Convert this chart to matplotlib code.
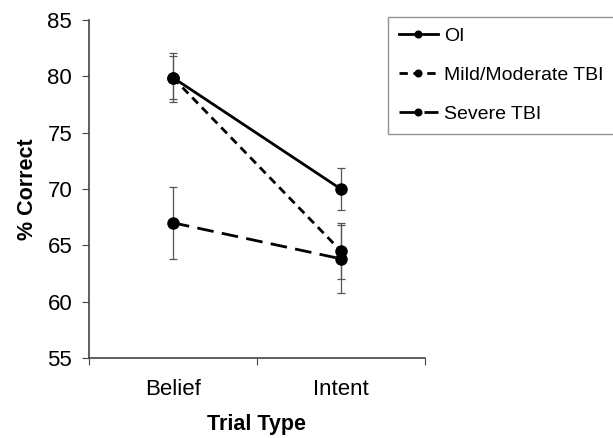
import matplotlib.pyplot as plt

plt.rcParams['font.family'] = ['Liberation Sans', 'DejaVu Sans']

trial_types = ["Belief", "Intent"]
groups = ["OI", "Mild/Moderate TBI", "Severe TBI"]

oi_mean = [79.9, 70.0]
oi_err = [2.2, 1.9]
mild_mean = [79.9, 64.5]
mild_err = [1.9, 2.5]
severe_mean = [67.0, 63.8]
severe_err = [3.2, 3.0]

means = [oi_mean, mild_mean, severe_mean]
errs = [oi_err, mild_err, severe_err]
styles = ["-", (0, (3, 2)), (0, (6, 3))]

fig = plt.figure(figsize=(6.13, 4.38), dpi=100)
ax = fig.add_axes([0.145, 0.183, 0.548, 0.771])

x = [0.5, 1.5]
handles = []
for name, m, e, ls in zip(groups, means, errs, styles):
    ax.errorbar(x, m, yerr=e, fmt="none", ecolor="#555555",
                elinewidth=0.9, capsize=3, capthick=0.9, zorder=2)
    h, = ax.plot(x, m, linestyle=ls, color="black", linewidth=2,
                 marker="o", markersize=8, zorder=3, label=name)
    handles.append(h)

ax.set_xlim(0, 2)
ax.set_ylim(55, 85)
ax.set_yticks(range(55, 90, 5))
ax.set_xticks([0, 1, 2])
ax.set_xticklabels([])
ax.set_xticks(x, minor=True)
ax.set_xticklabels(trial_types, minor=True, fontsize=16)
ax.tick_params(axis="x", which="minor", length=0, pad=15)
ax.tick_params(axis="x", which="major", length=5, color="#444444")
ax.tick_params(axis="y", length=5, labelsize=16, color="#444444", pad=7)

for side in ["top", "right"]:
    ax.spines[side].set_visible(False)
for side in ["left", "bottom"]:
    ax.spines[side].set_color("#444444")
    ax.spines[side].set_linewidth(1.2)

ax.set_ylabel("% Correct", fontsize=15.5, fontweight="bold", labelpad=7)
ax.set_xlabel("Trial Type", fontsize=15.5, fontweight="bold", labelpad=10)

leg = fig.legend(handles=handles, loc="upper left", mode="expand",
                 bbox_to_anchor=(0.633, 0.962, 0.4, 0.0), fontsize=14,
                 handlelength=2.0, handletextpad=0.35, markerscale=0.6,
                 borderaxespad=0, borderpad=0.55, labelspacing=1.1,
                 fancybox=False, frameon=True)
leg.get_frame().set_edgecolor("#777777")
leg.get_frame().set_linewidth(1.0)

fig.savefig("out.png", dpi=100)
